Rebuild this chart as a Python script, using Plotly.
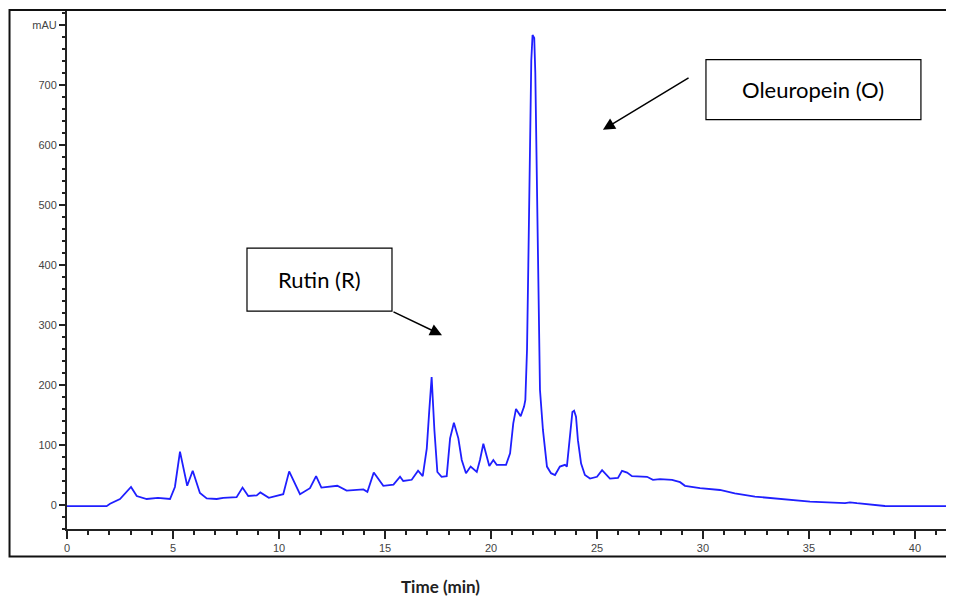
import plotly.graph_objects as go

# Chromatogram trace: retention time (min) and absorbance (mAU)
time_min = [0.0, 1.87, 2.03, 2.5, 3.02, 3.29, 3.76, 4.29, 4.86, 5.09, 5.33, 5.67, 5.93,
            6.27, 6.59, 7.06, 7.37, 8.0, 8.28, 8.55, 8.95, 9.12, 9.52, 10.2, 10.48,
            10.99, 11.46, 11.75, 12.0, 12.75, 13.19, 13.98, 14.17, 14.47, 14.92, 15.4,
            15.71, 15.86, 16.26, 16.56, 16.78, 16.97, 17.09, 17.2, 17.33, 17.47, 17.67,
            17.91, 18.07, 18.25, 18.46, 18.62, 18.82, 19.04, 19.33, 19.48, 19.64, 19.76,
            19.92, 20.11, 20.27, 20.71, 20.9, 21.05, 21.18, 21.4, 21.56, 21.62, 21.7,
            21.76, 21.83, 21.9, 21.96, 22.04, 22.09, 22.16, 22.24, 22.31, 22.45, 22.55,
            22.64, 22.83, 23.02, 23.25, 23.49, 23.58, 23.73, 23.84, 23.92, 24.01, 24.1,
            24.25, 24.43, 24.67, 25.0, 25.24, 25.61, 25.99, 26.18, 26.42, 26.65, 27.36,
            27.64, 27.97, 28.54, 28.92, 29.15, 29.86, 30.8, 31.5, 32.45, 33.63, 35.05,
            36.7, 36.93, 37.26, 38.58, 41.84]
absorbance = [-2, -2, 2, 10, 30, 15, 10, 12, 10, 30, 89, 32, 57,
              20, 11, 10, 12, 13, 29, 15, 16, 21, 12, 18, 56,
              18, 28, 48, 29, 32, 24, 26, 22, 54, 32, 34,
              47, 40, 42, 57, 48, 94, 158, 213, 125, 55, 47,
              48, 111, 137, 111, 75, 53, 64, 55, 75, 102, 85,
              65, 75, 67, 67, 86, 136, 160, 148, 164, 175, 260,
              400, 590, 740, 783, 778, 720, 560, 380, 192, 125, 92,
              64, 53, 50, 64, 67, 64, 114, 155, 157, 147, 108,
              69, 50, 44, 47, 58, 44, 45, 57, 54, 48, 47,
              42, 43, 42, 38, 32, 28, 25, 19.5, 14, 10, 5.5,
              3, 4.5, 3, -1.7, -2]

y_tickvals = [0, 100, 200, 300, 400, 500, 600, 700, 800]
y_ticktext = ["0", "100", "200", "300", "400", "500", "600", "700", "mAU"]
x_tickvals = [0, 5, 10, 15, 20, 25, 30, 35, 40]

label_rutin = "Rutin (R)"
label_oleuropein = "Oleuropein (O)"
x_title = "Time (min)"

fig = go.Figure()
fig.add_trace(go.Scatter(x=time_min, y=absorbance, mode="lines",
                         line=dict(color="#1f1fff", width=1.8), hoverinfo="x+y",
                         showlegend=False))

tick_font = dict(family="Liberation Sans, Arial", size=11, color="#444444")

# The page body adds an 8 px offset, so the figure is 8 px smaller than the window
fig.update_layout(
    width=946, height=590,
    margin=dict(l=59, r=0, t=3, b=69),
    paper_bgcolor="white", plot_bgcolor="white",
    xaxis=dict(range=[0, 41.84], tickvals=x_tickvals, showgrid=False, zeroline=False,
               showline=True, linecolor="#222222", linewidth=2,
               ticks="outside", ticklen=8, tickwidth=1.5, tickcolor="#222222",
               minor=dict(dtick=1, ticks="outside", ticklen=4, tickwidth=1.5,
                          tickcolor="#222222", showgrid=False),
               tickfont=tick_font),
    yaxis=dict(range=[-40, 823], tickvals=y_tickvals, ticktext=y_ticktext,
               showgrid=False, zeroline=False,
               showline=True, linecolor="#222222", linewidth=2,
               ticks="outside", ticklen=6, tickwidth=1.5, tickcolor="#222222",
               minor=dict(dtick=20, ticks="outside", ticklen=3, tickwidth=1.5,
                          tickcolor="#222222", showgrid=False),
               tickfont=tick_font),
)

# Outer frame of the figure
fig.add_shape(type="rect", xref="paper", yref="paper",
              x0=-0.0648, x1=1.01, y0=-0.0531, y1=1.0019,
              line=dict(color="#111111", width=2), layer="above")

# Label boxes
fig.add_shape(type="rect", xref="x", yref="y", x0=8.49, x1=15.33, y0=323, y1=428,
              line=dict(color="black", width=1.2), fillcolor="white")
fig.add_shape(type="rect", xref="x", yref="y", x0=30.14, x1=40.28, y0=642, y1=742,
              line=dict(color="black", width=1.2), fillcolor="white")

box_font = dict(family="Lato, Carlito, Calibri, sans-serif", size=22, color="black")
fig.add_annotation(x=(8.49 + 15.33) / 2, y=(323 + 428) / 2, xref="x", yref="y",
                   text=label_rutin, showarrow=False, font=box_font)
fig.add_annotation(x=(30.14 + 40.28) / 2, y=(642 + 742) / 2, xref="x", yref="y",
                   text=label_oleuropein, showarrow=False, font=box_font)

# Arrows
fig.add_annotation(x=17.69, y=283, ax=15.33, ay=323, xref="x", yref="y",
                   axref="x", ayref="y", text="", showarrow=True,
                   arrowhead=2, arrowsize=1.6, arrowwidth=1.5, arrowcolor="black")
fig.add_annotation(x=25.28, y=625, ax=29.39, ay=713, xref="x", yref="y",
                   axref="x", ayref="y", text="", showarrow=True,
                   arrowhead=2, arrowsize=1.6, arrowwidth=1.5, arrowcolor="black")

# Axis title and clipped unit label
fig.add_annotation(x=(440 - 67) / 887, y=(529 - 586) / 518, xref="paper", yref="paper",
                   yanchor="middle", xanchor="center",
                   text="<b>" + x_title + "</b>", showarrow=False,
                   font=dict(family="Lato, Carlito, Calibri, sans-serif", size=17, color="#222222"))
fig.add_annotation(x=(944 - 67) / 887, y=(529 - 550) / 518, xref="paper", yref="paper",
                   xanchor="left", yanchor="middle", text="min", showarrow=False,
                   font=tick_font)

fig.write_html("out.html")
